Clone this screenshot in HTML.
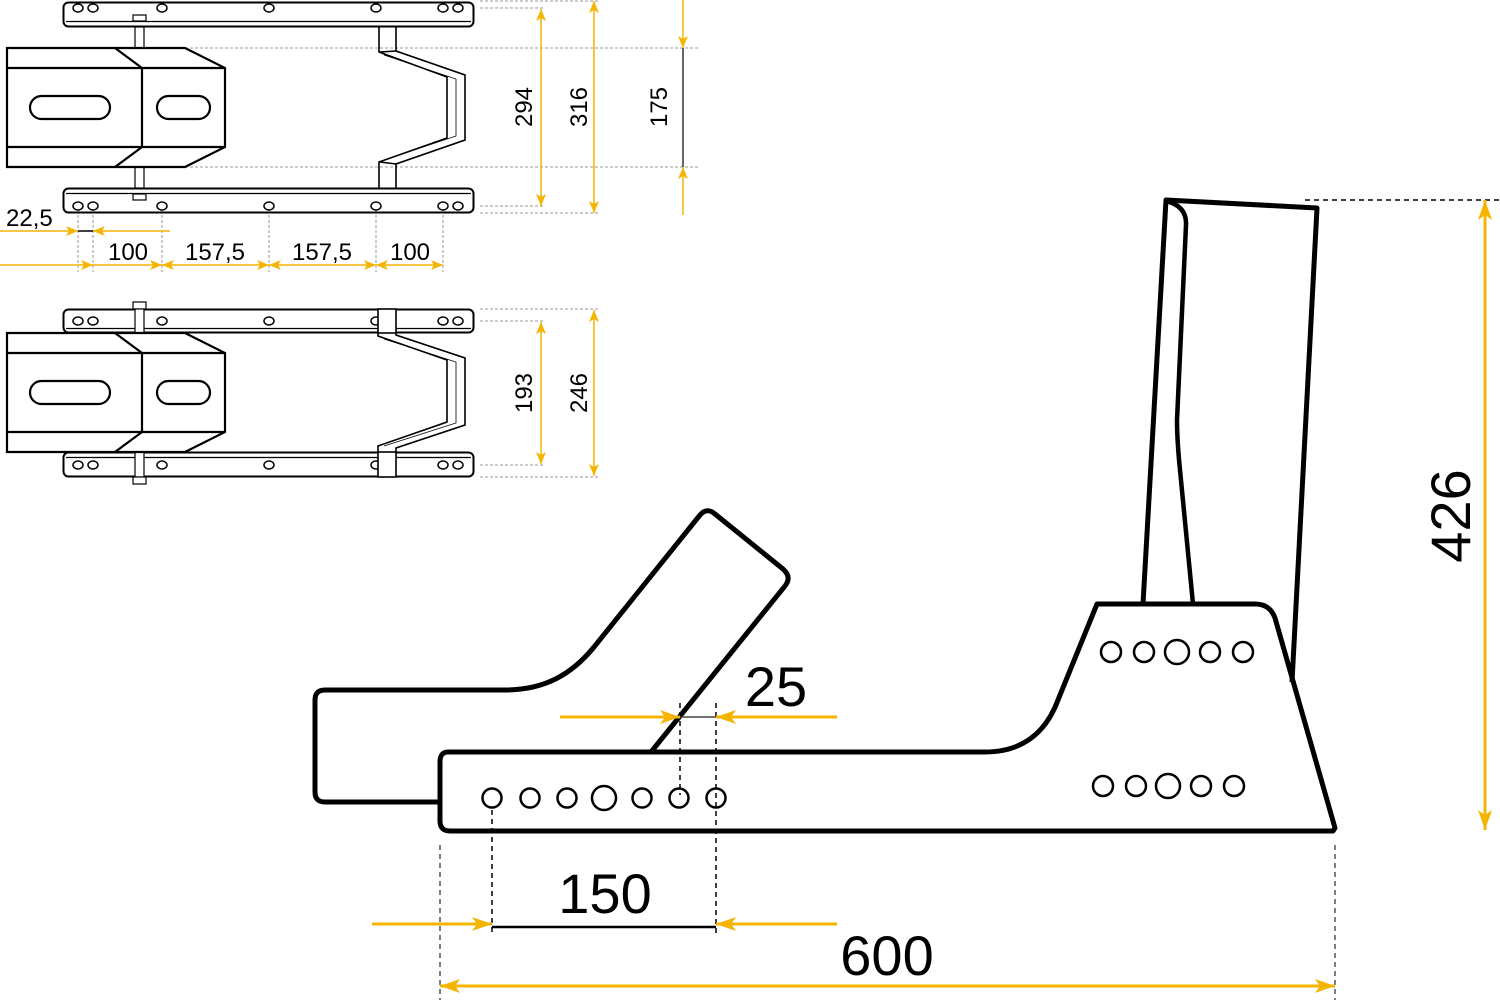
<!DOCTYPE html>
<html><head><meta charset="utf-8"><style>
html,body{margin:0;padding:0;background:#fff;}
svg{display:block;}
text{font-family:"Liberation Sans",sans-serif;fill:#000;}
</style></head><body>
<svg width="1500" height="1000" viewBox="0 0 1500 1000" xmlns="http://www.w3.org/2000/svg">
<defs>
<marker id="a" viewBox="0 0 20 14" refX="20" refY="7" markerWidth="20" markerHeight="14" markerUnits="userSpaceOnUse" orient="auto-start-reverse"><path d="M0 0 L20 7 L0 14 L5 7 Z" fill="#F5B400"/></marker>
<marker id="s" viewBox="0 0 12 10" refX="12" refY="5" markerWidth="12" markerHeight="10" markerUnits="userSpaceOnUse" orient="auto-start-reverse"><path d="M0 0 L12 5 L0 10 L3 5 Z" fill="#F5B400"/></marker>
</defs>

<!-- ===== Top view 1 ===== -->
<g fill="none" stroke="#000">
<g stroke="#999" stroke-width="1" stroke-dasharray="3,2">
<line x1="185" y1="48" x2="700" y2="48"/><line x1="185" y1="167" x2="700" y2="167"/>
<line x1="480" y1="1" x2="600" y2="1"/><line x1="480" y1="8" x2="545" y2="8"/>
<line x1="480" y1="206" x2="545" y2="206"/><line x1="480" y1="213" x2="600" y2="213"/>
<line x1="78" y1="210" x2="78" y2="272"/><line x1="93" y1="210" x2="93" y2="272"/>
<line x1="162" y1="210" x2="162" y2="272"/><line x1="269" y1="210" x2="269" y2="272"/>
<line x1="376" y1="210" x2="376" y2="272"/><line x1="443" y1="210" x2="443" y2="272"/>
<line x1="480" y1="309" x2="600" y2="309"/><line x1="480" y1="321" x2="545" y2="321"/>
<line x1="480" y1="465" x2="545" y2="465"/><line x1="480" y1="477" x2="600" y2="477"/>
</g>
<!-- rails -->
<rect x="63.5" y="2.5" width="410" height="24" rx="5" stroke-width="2"/>
<line x1="66" y1="21.5" x2="471" y2="21.5" stroke-width="1.2"/>
<rect x="63.5" y="188.5" width="410" height="24" rx="5" stroke-width="2"/>
<line x1="66" y1="193.5" x2="471" y2="193.5" stroke-width="1.2"/>
<g stroke-width="1.5">
<ellipse cx="78" cy="8" rx="5" ry="4"/><ellipse cx="93" cy="8" rx="5" ry="4"/><ellipse cx="162" cy="8" rx="5" ry="4"/><ellipse cx="269" cy="8" rx="5" ry="4"/><ellipse cx="376" cy="8" rx="5" ry="4"/><ellipse cx="443" cy="8" rx="5" ry="4"/><ellipse cx="458" cy="8" rx="5" ry="4"/>
<ellipse cx="78" cy="206" rx="5" ry="4"/><ellipse cx="93" cy="206" rx="5" ry="4"/><ellipse cx="162" cy="206" rx="5" ry="4"/><ellipse cx="269" cy="206" rx="5" ry="4"/><ellipse cx="376" cy="206" rx="5" ry="4"/><ellipse cx="443" cy="206" rx="5" ry="4"/><ellipse cx="458" cy="206" rx="5" ry="4"/>
</g>
<g stroke-width="1.2">
<rect x="133" y="15" width="13" height="6"/><rect x="135" y="27" width="9" height="21"/>
<rect x="135" y="167" width="9" height="21"/><rect x="133" y="194" width="13" height="6"/>
</g>
<!-- box -->
<g stroke-width="2.2">
<path d="M7 48 L185 48 L225 68 L225 147 L185 167 L7 167 Z"/>
<line x1="7" y1="68" x2="225" y2="68"/><line x1="7" y1="147" x2="225" y2="147"/>
<line x1="142" y1="68" x2="142" y2="147"/>
<line x1="115" y1="48" x2="142" y2="68"/><line x1="142" y1="147" x2="115" y2="167"/>
<rect x="30" y="96" width="80" height="23" rx="11.5"/><rect x="157" y="96" width="53" height="23" rx="11.5"/>
</g>
<!-- bracket -->
<g stroke-width="1.6">
<path d="M379 27 L379 52 L447 77 L447 138 L379 162 L379 188"/>
<path d="M396 27 L396 51 L465 75 L465 140 L396 164 L396 188"/>
<path d="M380 52 L396 51" /><path d="M380 162 L396 164"/>
<path d="M384 55 L456 79 L456 136 L384 160" stroke-width="0.8"/>
</g>

<!-- ===== Top view 2 ===== -->
<rect x="63.5" y="309.5" width="410" height="23" rx="5" stroke-width="2"/>
<line x1="66" y1="328.5" x2="471" y2="328.5" stroke-width="1.2"/>
<rect x="63.5" y="452.5" width="410" height="24" rx="5" stroke-width="2"/>
<line x1="66" y1="457.5" x2="471" y2="457.5" stroke-width="1.2"/>
<g stroke-width="1.5">
<ellipse cx="78" cy="321" rx="5" ry="4"/><ellipse cx="93" cy="321" rx="5" ry="4"/><ellipse cx="162" cy="321" rx="5" ry="4"/><ellipse cx="269" cy="321" rx="5" ry="4"/><ellipse cx="376" cy="321" rx="5" ry="4"/><ellipse cx="443" cy="321" rx="5" ry="4"/><ellipse cx="458" cy="321" rx="5" ry="4"/>
<ellipse cx="78" cy="465" rx="5" ry="4"/><ellipse cx="93" cy="465" rx="5" ry="4"/><ellipse cx="162" cy="465" rx="5" ry="4"/><ellipse cx="269" cy="465" rx="5" ry="4"/><ellipse cx="376" cy="465" rx="5" ry="4"/><ellipse cx="443" cy="465" rx="5" ry="4"/><ellipse cx="458" cy="465" rx="5" ry="4"/>
</g>
<g stroke-width="1.2" fill="#fff">
<rect x="133" y="302" width="13" height="7"/><rect x="135" y="309" width="9" height="24"/>
<rect x="135" y="452" width="9" height="25"/><rect x="133" y="477" width="13" height="7"/>
</g>
<g stroke-width="2.2" fill="#fff">
<path d="M7 333 L185 333 L225 353 L225 432 L185 452 L7 452 Z"/>
<line x1="7" y1="353" x2="225" y2="353"/><line x1="7" y1="432" x2="225" y2="432"/>
<line x1="142" y1="353" x2="142" y2="432"/>
<line x1="115" y1="333" x2="142" y2="353"/><line x1="142" y1="432" x2="115" y2="452"/>
<rect x="30" y="381" width="80" height="23" rx="11.5"/><rect x="157" y="381" width="53" height="23" rx="11.5"/>
</g>
<g stroke-width="1.6">
<rect x="378" y="309" width="18" height="24" fill="#fff"/>
<rect x="378" y="452" width="18" height="25" fill="#fff"/>
<path d="M378 333 L378 336 L447 360 L447 422 L378 446 L378 452"/>
<path d="M396 333 L396 335 L465 358 L465 425 L396 448 L396 452"/>
<path d="M384 339 L456 362 L456 423 L384 446" stroke-width="0.8"/>
</g>
</g>

<!-- top dims -->
<g stroke="#F5B400" stroke-width="1.5" fill="none">
<line x1="541" y1="9" x2="541" y2="206" marker-start="url(#s)" marker-end="url(#s)"/>
<line x1="594" y1="1" x2="594" y2="213" marker-start="url(#s)" marker-end="url(#s)"/>
<line x1="683" y1="0" x2="683" y2="48" marker-end="url(#s)"/>
<line x1="683" y1="215" x2="683" y2="167" marker-end="url(#s)"/>
<line x1="0" y1="231" x2="78" y2="231" marker-end="url(#s)"/>
<line x1="170" y1="231" x2="93" y2="231" marker-end="url(#s)"/>
<line x1="0" y1="265" x2="93" y2="265" marker-end="url(#s)"/>
<line x1="93" y1="265" x2="162" y2="265" marker-end="url(#s)"/>
<line x1="162" y1="265" x2="269" y2="265" marker-start="url(#s)" marker-end="url(#s)"/>
<line x1="269" y1="265" x2="376" y2="265" marker-start="url(#s)" marker-end="url(#s)"/>
<line x1="376" y1="265" x2="443" y2="265" marker-start="url(#s)" marker-end="url(#s)"/>
<line x1="541" y1="322" x2="541" y2="464" marker-start="url(#s)" marker-end="url(#s)"/>
<line x1="594" y1="310" x2="594" y2="476" marker-start="url(#s)" marker-end="url(#s)"/>
</g>
<line x1="683" y1="48" x2="683" y2="167" stroke="#333" stroke-width="1.5"/>
<line x1="78" y1="231" x2="93" y2="231" stroke="#000" stroke-width="1.5"/>
<g font-size="24">
<text x="6" y="226">22,5</text>
<text x="128" y="260" text-anchor="middle">100</text>
<text x="215" y="260" text-anchor="middle">157,5</text>
<text x="322" y="260" text-anchor="middle">157,5</text>
<text x="410" y="260" text-anchor="middle">100</text>
<text transform="translate(532,107) rotate(-90)" text-anchor="middle">294</text>
<text transform="translate(587,107) rotate(-90)" text-anchor="middle">316</text>
<text transform="translate(667,107) rotate(-90)" text-anchor="middle">175</text>
<text transform="translate(532,393) rotate(-90)" text-anchor="middle">193</text>
<text transform="translate(587,393) rotate(-90)" text-anchor="middle">246</text>
</g>

<!-- ===== Side view ===== -->
<g stroke="#000" stroke-width="1.5" stroke-dasharray="5,4" fill="none">
<line x1="1305" y1="200" x2="1500" y2="200"/>
<line x1="680" y1="703" x2="680" y2="795"/>
<line x1="716" y1="703" x2="716" y2="935"/>
<line x1="492" y1="810" x2="492" y2="935"/>
<line x1="440" y1="845" x2="440" y2="1000" stroke="#555"/>
<line x1="1335" y1="845" x2="1335" y2="1000" stroke="#555"/>
</g>
<g fill="none" stroke="#000" stroke-width="5" stroke-linejoin="round">
<path d="M440 802 L325 802 Q315 802 315 792 L315 700 Q315 690 325 690 L505 690 C545 690 572 674 594 647 L700 515 Q707 507 715 514 L783 569 Q792 577 785 586 L651 752"/>
<path d="M448 752 L985 752 C1020 752 1045 735 1058 700 L1097 604 L1255 604 Q1270 604 1275 618 L1335 828 L1333 831 L450 831 Q440 831 440 821 L440 762 Q440 752 448 752 Z"/>
<path d="M1143 604 L1166 200 L1317 208 L1292 682"/>
<path d="M1166 201 Q1187 206 1186 225 L1177 420 Q1177 440 1180 470 L1193 604" stroke-width="4.5"/>
</g>
<g fill="none" stroke="#000" stroke-width="2.5">
<circle cx="492" cy="798" r="9.5"/><circle cx="530" cy="798" r="9.5"/><circle cx="567" cy="798" r="9.5"/><circle cx="604" cy="798" r="12"/><circle cx="642" cy="798" r="9.5"/><circle cx="679" cy="798" r="9.5"/><circle cx="716" cy="798" r="9.5"/>
<circle cx="1111" cy="652" r="10"/><circle cx="1144" cy="652" r="10"/><circle cx="1177" cy="652" r="12"/><circle cx="1210" cy="652" r="10"/><circle cx="1243" cy="652" r="10"/>
<circle cx="1103" cy="786" r="10"/><circle cx="1136" cy="786" r="10"/><circle cx="1168" cy="786" r="12"/><circle cx="1201" cy="786" r="10"/><circle cx="1234" cy="786" r="10"/>
</g>
<g stroke="#F5B400" stroke-width="3" fill="none">
<line x1="560" y1="717" x2="680" y2="717" marker-end="url(#a)"/>
<line x1="837" y1="717" x2="716" y2="717" marker-end="url(#a)"/>
<line x1="372" y1="924" x2="492" y2="924" marker-end="url(#a)"/>
<line x1="837" y1="924" x2="716" y2="924" marker-end="url(#a)"/>
<line x1="440" y1="986" x2="1335" y2="986" marker-start="url(#a)" marker-end="url(#a)"/>
<line x1="1485" y1="200" x2="1485" y2="830" marker-start="url(#a)" marker-end="url(#a)"/>
</g>
<line x1="680" y1="717" x2="716" y2="717" stroke="#444" stroke-width="1.5"/>
<line x1="492" y1="927" x2="716" y2="927" stroke="#000" stroke-width="2.5"/>
<g font-size="56">
<text x="776" y="706" text-anchor="middle">25</text>
<text x="605" y="913" text-anchor="middle">150</text>
<text x="887" y="975" text-anchor="middle">600</text>
<text transform="translate(1470,516) rotate(-90)" text-anchor="middle">426</text>
</g>
</svg>
</body></html>
